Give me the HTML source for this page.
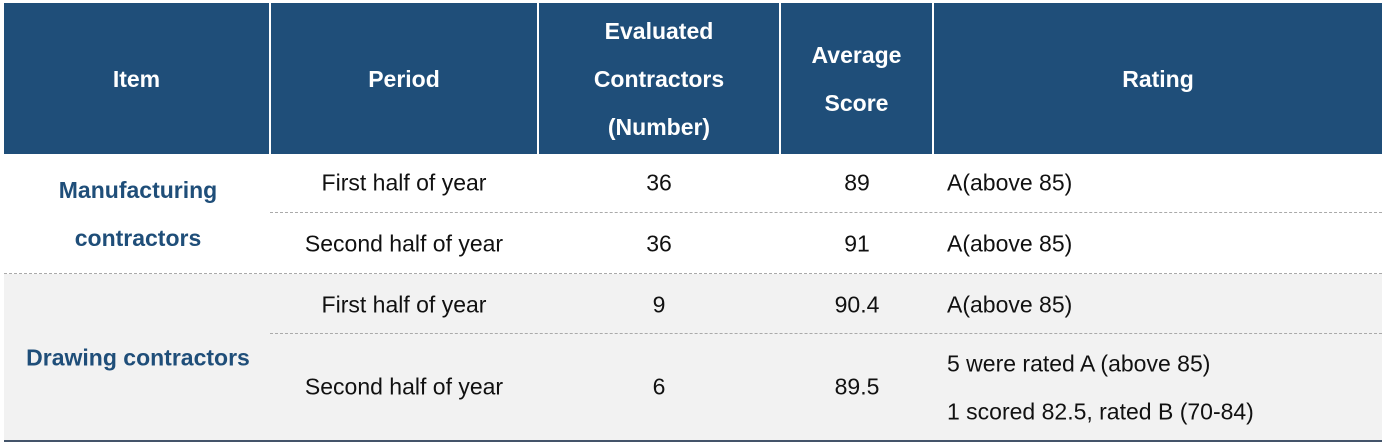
<!DOCTYPE html>
<html><head><meta charset="utf-8"><style>
body{margin:0;width:1386px;height:443px;background:#fff;font-family:"Liberation Sans",sans-serif;position:relative;overflow:hidden}
.a{position:absolute}
.hd{top:3px;height:151px;background:#1f4e79;color:#fff;font-weight:bold;font-size:23px;display:flex;align-items:center;justify-content:center;text-align:center;line-height:48px}
.c{position:absolute;font-size:23px;color:#111;transform:translate(-50%,-50%);white-space:nowrap}
.l{position:absolute;font-size:23px;color:#111;transform:translateY(-50%);white-space:nowrap}
.b{position:absolute;font-size:23px;font-weight:bold;color:#1f4e79;transform:translate(-50%,-50%);white-space:nowrap}
.dash{position:absolute;height:0;border-top:1px dashed #aaa}
</style></head><body>
<div class="a hd" style="left:4px;width:265px">Item</div>
<div class="a hd" style="left:271px;width:266px">Period</div>
<div class="a hd" style="left:539px;width:240px">Evaluated<br>Contractors<br>(Number)</div>
<div class="a hd" style="left:781px;width:151px">Average<br>Score</div>
<div class="a hd" style="left:934px;width:448px">Rating</div>
<div class="a" style="left:4px;top:274px;width:1378px;height:166px;background:#f2f2f2"></div>
<div class="dash" style="left:270px;width:1112px;top:212px"></div>
<div class="dash" style="left:4px;width:1378px;top:273px"></div>
<div class="dash" style="left:270px;width:1112px;top:333px"></div>
<div class="a" style="left:4px;width:1378px;top:440px;height:2px;background:#44546a"></div>
<div class="b" style="left:138px;top:214px;line-height:48px;text-align:center">Manufacturing<br>contractors</div>
<div class="b" style="left:138px;top:358px">Drawing contractors</div>
<div class="c" style="left:404px;top:183px">First half of year</div>
<div class="c" style="left:404px;top:244px">Second half of year</div>
<div class="c" style="left:404px;top:305px">First half of year</div>
<div class="c" style="left:404px;top:387px">Second half of year</div>
<div class="c" style="left:659px;top:183px">36</div>
<div class="c" style="left:659px;top:244px">36</div>
<div class="c" style="left:659px;top:305px">9</div>
<div class="c" style="left:659px;top:387px">6</div>
<div class="c" style="left:857px;top:183px">89</div>
<div class="c" style="left:857px;top:244px">91</div>
<div class="c" style="left:857px;top:305px">90.4</div>
<div class="c" style="left:857px;top:387px">89.5</div>
<div class="l" style="left:947px;top:183px">A(above 85)</div>
<div class="l" style="left:947px;top:244px">A(above 85)</div>
<div class="l" style="left:947px;top:305px">A(above 85)</div>
<div class="l" style="left:947px;top:364px">5 were rated A (above 85)</div>
<div class="l" style="left:947px;top:412px">1 scored 82.5, rated B (70-84)</div>
</body></html>
